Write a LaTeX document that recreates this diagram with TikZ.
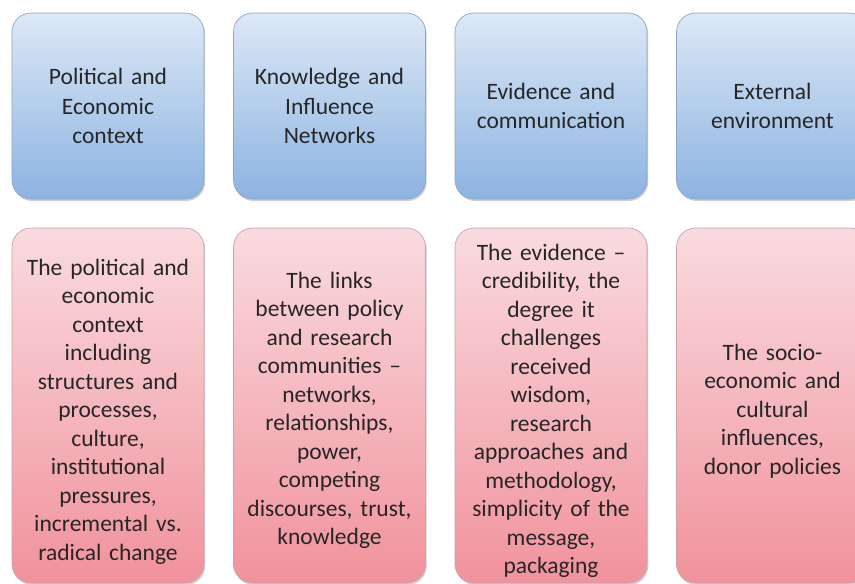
\documentclass[tikz,border=0pt]{standalone}
\usepackage{fontspec}
\setmainfont{Carlito}
\usetikzlibrary{shadows}

\definecolor{bluetop}{HTML}{DCE8F6}
\definecolor{bluebot}{HTML}{8CB3E1}
\definecolor{blueline}{HTML}{8FA6C2}
\definecolor{pinktop}{HTML}{F9DBDF}
\definecolor{pinkbot}{HTML}{F1929C}
\definecolor{pinkline}{HTML}{C9A3A8}
\definecolor{txt}{HTML}{262626}

\tikzset{
  box/.style={rounded corners=19pt, minimum width=192pt, line width=0.7pt,
    drop shadow={shadow xshift=1.2pt, shadow yshift=-2pt, opacity=0.3, fill=black!60}},
  headbox/.style={box, minimum height=186pt, draw=blueline,
    top color=bluetop, bottom color=bluebot, text width=184pt, align=center,
    text=txt, font=\fontsize{23.5}{29.5}\selectfont},
  textbox/.style={box, minimum height=355pt, draw=pinkline,
    top color=pinktop, bottom color=pinkbot},
  bodytext/.style={text width=184pt, align=center, text=txt,
    font=\fontsize{23.5}{28.5}\selectfont}
}

\begin{document}
\begin{tikzpicture}[x=1pt,y=-1pt]
	\useasboundingbox (0,0) rectangle (855,584);
	\fill[white] (0,0) rectangle (855,584);
	% top row
	\node[headbox] (polhead) at (108,106) {Political and\\Economic\\context};
	\node[headbox] (knowhead) at (329.5,106) {Knowledge and\\Influence\\Networks};
	\node[headbox] (evihead) at (551,106) {Evidence and\\communication};
	\node[headbox] (exthead) at (772.5,106) {External\\environment};
	% bottom row
	\node[textbox] (polbox) at (108,405.5) {};
	\node[textbox] (knowbox) at (329.5,405.5) {};
	\node[textbox] (evibox) at (551,405.5) {};
	\node[textbox] (extbox) at (772.5,405.5) {};
	\node[bodytext] (poltext) at (108,411.5) {The political and\\economic\\context\\including\\structures and\\processes,\\culture,\\institutional\\pressures,\\incremental vs.\\radical change};
	\node[bodytext] (knowtext) at (329.5,410.5) {The links\\between policy\\and research\\communities --\\networks,\\relationships,\\power,\\competing\\discourses, trust,\\knowledge};
	\node[bodytext] (evitext) at (551,411) {The evidence --\\credibility, the\\degree it\\challenges\\received\\wisdom,\\research\\approaches and\\methodology,\\simplicity of the\\message,\\packaging};
	\node[bodytext] (exttext) at (772.5,411) {The socio-\\economic and\\cultural\\influences,\\donor policies};
\end{tikzpicture}
\end{document}
